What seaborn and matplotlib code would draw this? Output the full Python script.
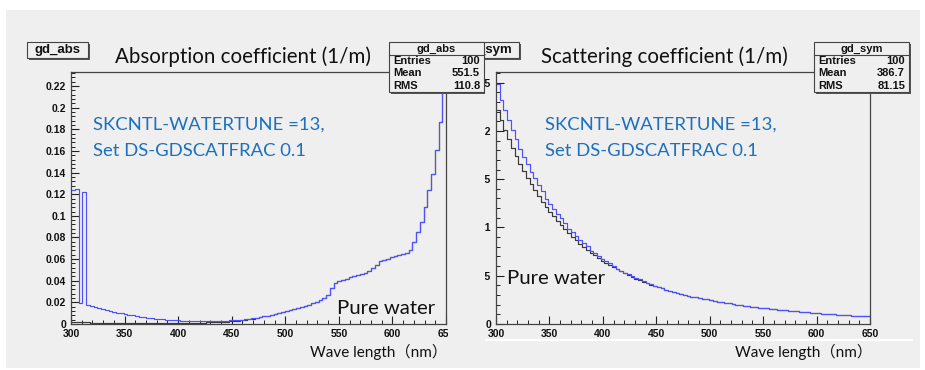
import numpy as np
import seaborn as sns
import matplotlib.pyplot as plt
from matplotlib.patches import Rectangle
from matplotlib.lines import Line2D
from matplotlib.ticker import MultipleLocator

# 100 bins of 3.5 nm between 300 and 650 nm (bin centres)
wavelength_nm = np.arange(301.75, 650, 3.5)

# absorption coefficient (1/m), pure water
abs_water = [
    0.0015, 0.0015, 0.0014, 0.0014, 0.0014, 0.0013, 0.0013, 0.0013, 0.0012, 0.0012,
    0.0012, 0.0011, 0.0011, 0.0011, 0.0010, 0.0010, 0.0010, 0.0010, 0.0009, 0.0009,
    0.0009, 0.0009, 0.0008, 0.0008, 0.0008, 0.0008, 0.0008, 0.0008, 0.0008, 0.0008,
    0.0009, 0.0010, 0.0010, 0.0011, 0.0012, 0.0013, 0.0014, 0.0015, 0.0016, 0.0018,
    0.0020, 0.0022, 0.0025, 0.0028, 0.0031, 0.0035, 0.0040, 0.0045, 0.0050, 0.0056,
    0.0063, 0.0070, 0.0078, 0.0085, 0.0092, 0.0100, 0.0110, 0.0120, 0.0130, 0.0140,
    0.0150, 0.0160, 0.0170, 0.0180, 0.0190, 0.0200, 0.0220, 0.0240, 0.0270, 0.0330,
    0.0380, 0.0400, 0.0410, 0.0420, 0.0430, 0.0440, 0.0450, 0.0460, 0.0470, 0.0490,
    0.0520, 0.0550, 0.0580, 0.0590, 0.0605, 0.0620, 0.0630, 0.0640, 0.0650, 0.0660,
    0.0684, 0.0760, 0.0850, 0.0945, 0.1080, 0.1240, 0.1390, 0.1610, 0.1870, 0.2210,
]
# absorption with Gd (first 49 bins differ, the rest follow pure water)
abs_gd = [
    0.1240, 0.1250, 0.0190, 0.1220, 0.0175, 0.0165, 0.0155, 0.0146, 0.0137, 0.0128,
    0.0120, 0.0112, 0.0105, 0.0098, 0.0091, 0.0085, 0.0079, 0.0073, 0.0068, 0.0063,
    0.0058, 0.0054, 0.0050, 0.0046, 0.0043, 0.0040, 0.0037, 0.0035, 0.0033, 0.0031,
    0.0030, 0.0029, 0.0028, 0.0028, 0.0028, 0.0028, 0.0028, 0.0029, 0.0030, 0.0030,
    0.0031, 0.0032, 0.0033, 0.0035, 0.0037, 0.0040, 0.0043, 0.0047, 0.0051,
] + abs_water[49:]

# scattering coefficient (1/m), pure water
scat_water = [
    0.2220, 0.2112, 0.2011, 0.1916, 0.1826, 0.1742, 0.1662, 0.1587, 0.1516, 0.1449,
    0.1385, 0.1325, 0.1268, 0.1214, 0.1163, 0.1114, 0.1067, 0.1023, 0.0981, 0.0941,
    0.0903, 0.0867, 0.0833, 0.0800, 0.0769, 0.0739, 0.0710, 0.0683, 0.0657, 0.0633,
    0.0609, 0.0587, 0.0565, 0.0544, 0.0525, 0.0506, 0.0488, 0.0470, 0.0454, 0.0438,
    0.0423, 0.0408, 0.0394, 0.0381, 0.0368, 0.0355, 0.0344, 0.0332, 0.0321, 0.0311,
    0.0302, 0.0293, 0.0284, 0.0276, 0.0269, 0.0262, 0.0255, 0.0248, 0.0240, 0.0233,
    0.0226, 0.0219, 0.0213, 0.0207, 0.0201, 0.0195, 0.0189, 0.0184, 0.0179, 0.0174,
    0.0170, 0.0166, 0.0161, 0.0157, 0.0153, 0.0148, 0.0144, 0.0140, 0.0137, 0.0133,
    0.0130, 0.0126, 0.0123, 0.0120, 0.0117, 0.0114, 0.0111, 0.0108, 0.0106, 0.0103,
    0.0100, 0.0097, 0.0095, 0.0093, 0.0090, 0.0088, 0.0086, 0.0084, 0.0082, 0.0080,
]
# scattering with DS-GDSCATFRAC 0.1 (first 46 bins differ)
scat_gd = [
    0.2490, 0.2323, 0.2212, 0.2108, 0.2009, 0.1916, 0.1812, 0.1730, 0.1652, 0.1579,
    0.1510, 0.1444, 0.1382, 0.1299, 0.1244, 0.1192, 0.1142, 0.1095, 0.1050, 0.0988,
    0.0948, 0.0910, 0.0875, 0.0840, 0.0807, 0.0761, 0.0731, 0.0703, 0.0677, 0.0652,
    0.0627, 0.0596, 0.0573, 0.0552, 0.0533, 0.0514, 0.0495, 0.0477, 0.0461, 0.0445,
    0.0429, 0.0412, 0.0397, 0.0383, 0.0369, 0.0356,
] + scat_water[46:]

x_ticks = [300, 350, 400, 450, 500, 550, 600, 650]
abs_yticks = [0, 0.02, 0.04, 0.06, 0.08, 0.1, 0.12, 0.14, 0.16, 0.18, 0.2, 0.22]
abs_ytick_labels = ['0', '0.02', '0.04', '0.06', '0.08', '0.1', '0.12', '0.14',
                    '0.16', '0.18', '0.2', '0.22']
scat_yticks = [0, 0.05, 0.1, 0.15, 0.2, 0.25]
scat_ytick_labels = ['0', '0.05', '0.1', '0.15', '0.2', '0.25']

stats_abs = [('Entries', '100'), ('Mean', '551.5'), ('RMS', '110.8')]
stats_sym = [('Entries', '100'), ('Mean', '386.7'), ('RMS', '81.15')]

BG = '#efefef'
BLUE = '#5050ff'
DARK = '#3a3a3a'
TXT_BLUE = '#1c70c0'
W, H = 925, 370


def fx(x):
    return x / W


def fy(y):
    return 1 - y / H


fig = plt.figure(figsize=(9.25, 3.70), dpi=100, facecolor='white')
fig.add_artist(Rectangle((fx(6), fy(368)), fx(914), (368 - 10) / H,
                         facecolor=BG, edgecolor='none', zorder=-1))

ax1 = fig.add_axes([fx(71), fy(324), fx(446 - 71), (324 - 72) / H])
ax2 = fig.add_axes([fx(496), fy(324), fx(870 - 496), (324 - 72) / H])


def draw_hist(ax, water, gd, ymax, yticks, ylabels, yminor):
    sns.histplot(x=wavelength_nm, weights=water, bins=100, binrange=(300, 650),
                 element='step', fill=False, color=DARK, linewidth=0.85, ax=ax)
    sns.histplot(x=wavelength_nm, weights=gd, bins=100, binrange=(300, 650),
                 element='step', fill=False, color=BLUE, linewidth=0.85, ax=ax)
    ax.set_xlim(300, 650)
    ax.set_ylim(0, ymax)
    ax.set_facecolor(BG)
    ax.set_xlabel('')
    ax.set_ylabel('')
    ax.set_xticks(x_ticks, [str(t) for t in x_ticks])
    ax.set_yticks(yticks, ylabels)
    ax.xaxis.set_minor_locator(MultipleLocator(10))
    ax.yaxis.set_minor_locator(MultipleLocator(yminor))
    ax.tick_params(which='major', direction='in', length=5.5, width=0.8,
                   color='#222222', labelsize=7.5, pad=3.5)
    ax.tick_params(which='minor', direction='in', length=3, width=0.7,
                   color='#222222')
    for lab in ax.get_xticklabels() + ax.get_yticklabels():
        lab.set_fontweight('bold')
        lab.set_family('Liberation Sans')
        lab.set_color('#111111')
    for s in ax.spines.values():
        s.set_color('#444444')
        s.set_linewidth(0.9)


draw_hist(ax1, abs_water, abs_gd, 0.233, abs_yticks, abs_ytick_labels, 0.004)
draw_hist(ax2, scat_water, scat_gd, 0.261, scat_yticks, scat_ytick_labels, 0.01)

# the left screenshot overlaps the left edge of the right one
fig.add_artist(Rectangle((fx(447.5), fy(338)), fx(485 - 447.5), (338 - 60) / H,
                         facecolor=BG, edgecolor='none', zorder=3))
fig.add_artist(Line2D([fx(486), fx(912)], [fy(340), fy(340)], color='white',
                      lw=1.5, zorder=3))


def label_box(x0, x1, y0, y1, text, tx):
    fig.add_artist(Rectangle((fx(x0 + 1.5), fy(y1 + 1.5)), fx(x1 - x0), (y1 - y0) / H,
                             facecolor='#555555', edgecolor='none', zorder=4))
    fig.add_artist(Rectangle((fx(x0), fy(y1)), fx(x1 - x0), (y1 - y0) / H,
                             facecolor=BG, edgecolor='#444444', lw=0.8, zorder=4))
    fig.text(fx(tx), fy((y0 + y1) / 2), text, ha='center', va='center',
             family='Liberation Sans', fontweight='bold', fontsize=9.5,
             color='#111111', zorder=5)


def stats_box(x0, x1, y0, y1, name, rows):
    fig.add_artist(Rectangle((fx(x0 + 1.5), fy(y1 + 1.5)), fx(x1 - x0), (y1 - y0) / H,
                             facecolor='#555555', edgecolor='none', zorder=6))
    fig.add_artist(Rectangle((fx(x0), fy(y1)), fx(x1 - x0), (y1 - y0) / H,
                             facecolor=BG, edgecolor='#444444', lw=0.8, zorder=6))
    fig.add_artist(Line2D([fx(x0), fx(x1)], [fy(y0 + 12.5), fy(y0 + 12.5)],
                          color='#444444', lw=0.8, zorder=7))
    kw = dict(family='Liberation Sans', fontweight='bold', fontsize=8,
              color='#111111', zorder=7, va='center')
    fig.text(fx((x0 + x1) / 2), fy(y0 + 6.5), name, ha='center', **kw)
    for k, (key, val) in enumerate(rows):
        yy = y0 + 19 + 12.5 * k
        fig.text(fx(x0 + 4), fy(yy), key, ha='left', **kw)
        fig.text(fx(x1 - 4), fy(yy), val, ha='right', **kw)


label_box(27, 88, 42, 58, 'gd_abs', 57.5)
label_box(456, 519, 42, 58, 'gd_sym', 487.5)
stats_box(814, 909, 42, 92, 'gd_sym', stats_sym)
stats_box(389, 484, 42, 92, 'gd_abs', stats_abs)

title_kw = dict(family='Lato', fontsize=14.8, color='#111111', va='center', zorder=5)
fig.text(fx(115), fy(57), 'Absorption coefficient (1/m)', ha='left', **title_kw)
fig.text(fx(541), fy(57), 'Scattering coefficient (1/m)', ha='left', **title_kw)

note_kw = dict(family='Lato', fontsize=13.3, color=TXT_BLUE, va='center', zorder=5)
for x0 in (93, 545):
    fig.text(fx(x0), fy(125), 'SKCNTL-WATERTUNE =13,', ha='left', **note_kw)
    fig.text(fx(x0), fy(151), 'Set DS-GDSCATFRAC 0.1', ha='left', **note_kw)

pw_kw = dict(family='Lato', fontsize=14.6, color='#111111', va='center', zorder=5)
fig.text(fx(337), fy(308), 'Pure water', ha='left', **pw_kw)
fig.text(fx(507), fy(278), 'Pure water', ha='left', **pw_kw)

xl_kw = dict(family=['Lato', 'Noto Sans CJK JP'], fontsize=11, color='#111111',
             va='center', zorder=5)
fig.text(fx(447), fy(352), 'Wave length（nm）', ha='right', **xl_kw)
fig.text(fx(872), fy(352), 'Wave length（nm）', ha='right', **xl_kw)

fig.savefig('out.png', dpi=100, facecolor='white')
